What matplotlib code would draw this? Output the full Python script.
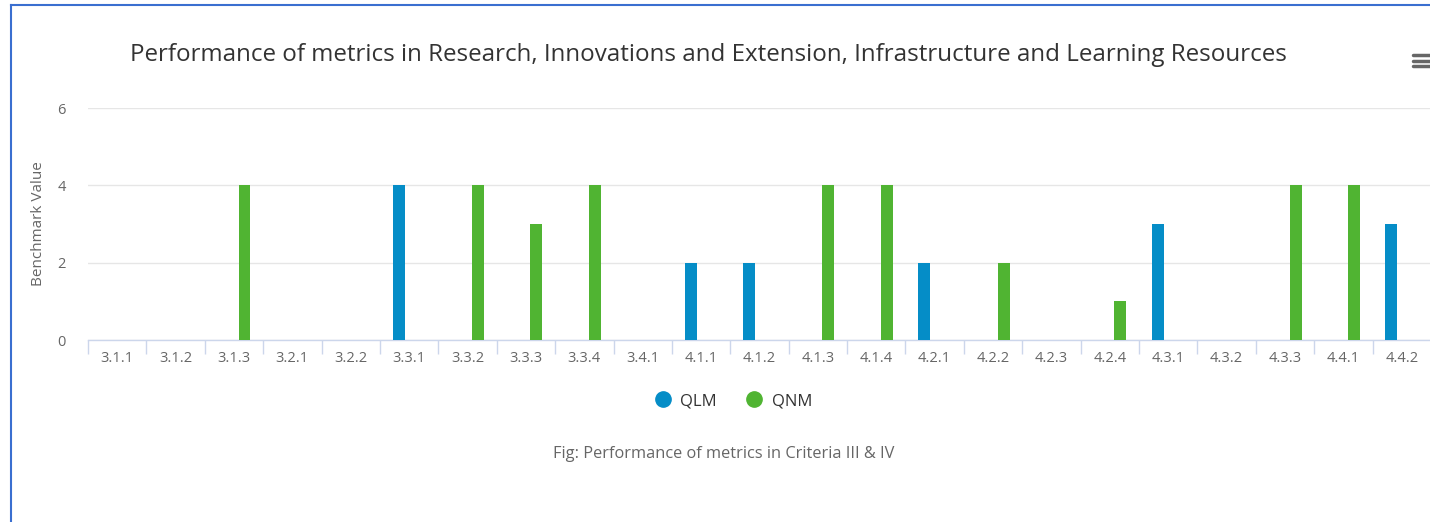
import matplotlib
matplotlib.use("Agg")
import matplotlib.pyplot as plt
from matplotlib.lines import Line2D
import numpy as np

categories = ["3.1.1", "3.1.2", "3.1.3", "3.2.1", "3.2.2", "3.3.1", "3.3.2", "3.3.3",
              "3.3.4", "3.4.1", "4.1.1", "4.1.2", "4.1.3", "4.1.4", "4.2.1", "4.2.2",
              "4.2.3", "4.2.4", "4.3.1", "4.3.2", "4.3.3", "4.4.1", "4.4.2"]
qlm = [0, 0, 0, 0, 0, 4, 0, 0, 0, 0, 2, 2, 0, 0, 2, 0, 0, 0, 3, 0, 0, 0, 3]
qnm = [0, 0, 4, 0, 0, 0, 4, 3, 4, 0, 0, 0, 4, 4, 0, 2, 0, 1, 0, 0, 4, 4, 0]
yticks = [0, 2, 4, 6]

title = "Performance of metrics in Research, Innovations and Extension, Infrastructure and Learning Resources"
caption = "Fig: Performance of metrics in Criteria III & IV"

plt.rcParams['font.family'] = ['Open Sans', 'DejaVu Sans']

W, H = 1430, 522
fig = plt.figure(figsize=(W / 100, H / 100), dpi=100)
fig.patch.set_facecolor("white")

ax = fig.add_axes([88 / W, 1 - 340 / H, (1431 - 88) / W, (340 - 108) / H])
x = np.arange(len(categories))
bw = 0.205
ax.bar(x - 0.18, qlm, width=bw, color="#058DC7", zorder=3, label="QLM")
ax.bar(x + 0.18, qnm, width=bw, color="#50B432", zorder=3, label="QNM")

ax.set_xlim(-0.5, len(categories) - 0.5)
ax.set_ylim(0, 6)
ax.set_yticks(yticks)
ax.set_yticklabels([str(v) for v in yticks], fontsize=10.5, color="#666666")
ax.tick_params(axis="y", length=0, pad=16)
ax.yaxis.grid(True, color="#e6e6e6", linewidth=1, zorder=0)
ax.set_axisbelow(True)

ax.set_xticks(x)
ax.set_xticklabels(categories, fontsize=10.5, color="#666666")
ax.tick_params(axis="x", which="major", length=0, pad=8)
ax.set_xticks(np.arange(-0.5, len(categories), 1), minor=True)
ax.tick_params(axis="x", which="minor", length=10, color="#ccd6eb", width=1)

for s in ["top", "right", "left"]:
    ax.spines[s].set_visible(False)
ax.spines["bottom"].set_color("#ccd6eb")
ax.spines["bottom"].set_linewidth(1)
ax.set_facecolor("white")

fig.text(38 / W, 1 - 224 / H, "Benchmark Value", rotation=90, ha="center", va="center",
         fontsize=11, color="#666666")

fig.text(708 / W, 1 - 55 / H, title, ha="center", va="center", fontsize=17.4, color="#333333")
fig.text(724 / W, 1 - 454 / H, caption, ha="center", va="center", fontsize=11.8, color="#666666")

# legend
handles = [Line2D([], [], marker="o", linestyle="none", markersize=11, markerfacecolor="#058DC7",
                  markeredgecolor="#058DC7"),
           Line2D([], [], marker="o", linestyle="none", markersize=11, markerfacecolor="#50B432",
                  markeredgecolor="#50B432")]
fig.legend(handles, ["QLM", "QNM"], loc="center", bbox_to_anchor=(729 / W, 1 - 401 / H), ncol=2,
           frameon=False, fontsize=12, handletextpad=0.05, columnspacing=1.25, labelcolor="#333333")

# menu icon
for yy in [55, 60.5, 66]:
    fig.add_artist(Line2D([1413 / W, 1430 / W], [1 - yy / H, 1 - yy / H], color="#666666",
                          linewidth=2.5, solid_capstyle="round"))

# outer border
fig.add_artist(Line2D([10.5 / W, 10.5 / W], [0, 1 - 5 / H], color="#3a6fd0", linewidth=1.5))
fig.add_artist(Line2D([10.5 / W, 1], [1 - 5 / H, 1 - 5 / H], color="#3a6fd0", linewidth=1.5))

fig.savefig("out.png", dpi=100, facecolor="white")
